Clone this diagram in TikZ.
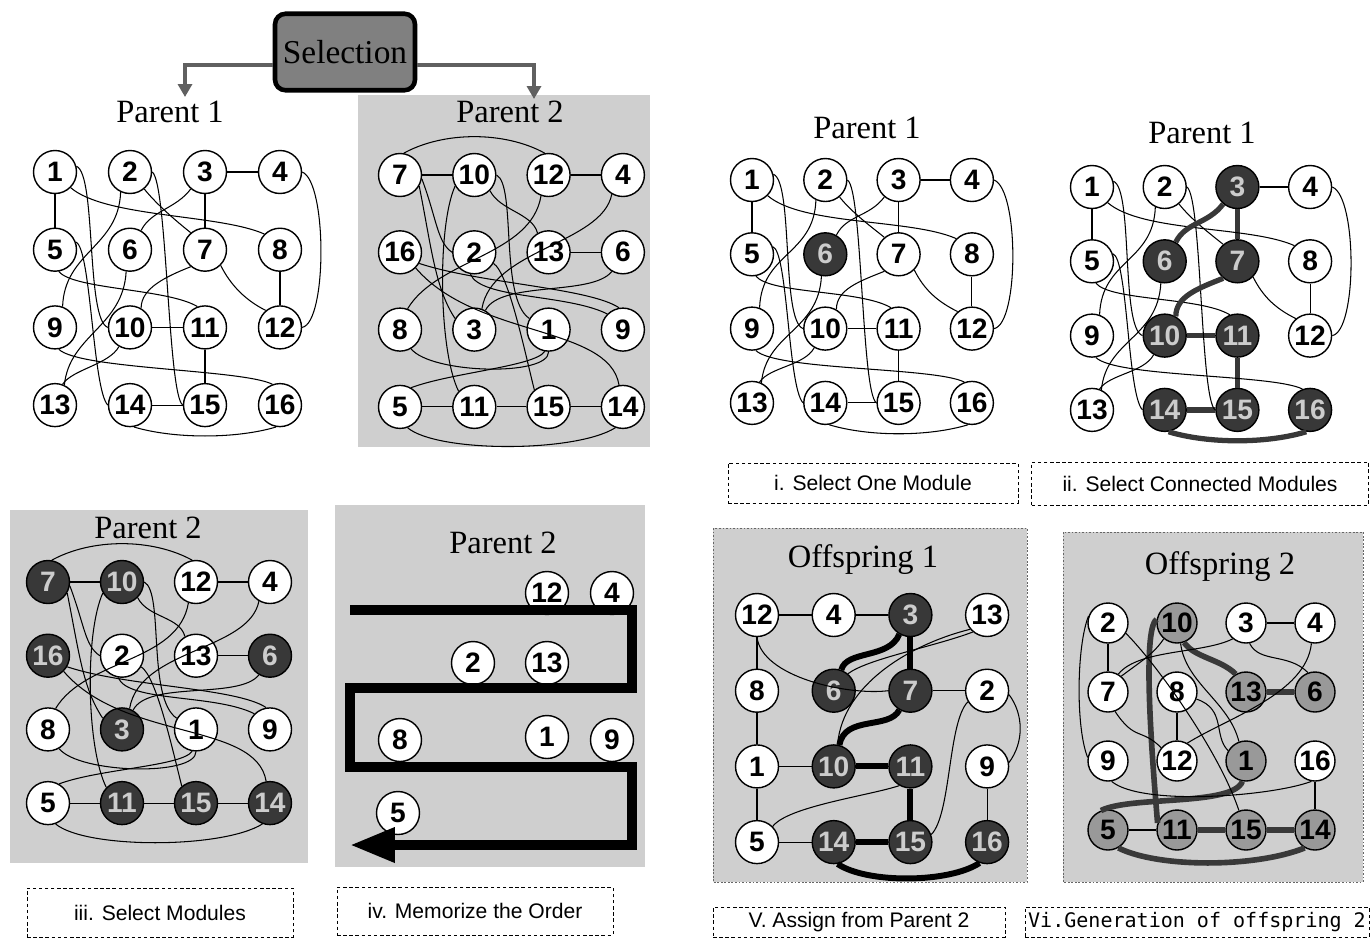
\documentclass[tikz,border=0pt]{standalone}
\usepackage{fontspec}
\setmainfont{Liberation Serif}
\setsansfont{Liberation Sans}
\setmonofont{DejaVu Sans Mono}
\usetikzlibrary{arrows.meta}

\definecolor{dotgrey}{gray}{0.81}
\definecolor{chkdark}{gray}{0.22}
\definecolor{chkmid}{gray}{0.60}
\definecolor{chksel}{gray}{0.50}

\tikzset{
  modnode/.style={circle, draw, line width=0.8pt, fill=white, minimum size=0.86cm, inner sep=0pt,
    font=\sffamily\bfseries\fontsize{16}{16}\selectfont},
  picknode/.style={modnode, fill=chkdark, text=gray!40},
  halfnode/.style={modnode, fill=chkmid},
  link/.style={line width=0.6pt},
  picklink/.style={line width=3pt, draw=chkdark},
  boldlink/.style={line width=3.4pt, draw=black},
  greylink/.style={line width=3.2pt, draw=gray!45!black},
  titletext/.style={font=\fontsize{18.5}{18.5}\selectfont},
  stepnote/.style={draw, dash pattern=on 2pt off 1.5pt, line width=0.5pt, inner sep=0pt,
    font=\sffamily\fontsize{12}{12}\selectfont},
  selbox/.style={draw, line width=2.6pt, rounded corners=6pt, fill=chksel, minimum width=2.8cm,
    minimum height=1.53cm, font=\fontsize{19}{19}\selectfont},
  selarrow/.style={line width=2.4pt, draw=gray!75!black, -{Triangle[length=0.26cm, width=0.28cm]}},
  orderpath/.style={line width=5.6pt, line join=miter, -{Triangle[length=0.9cm, width=0.66cm]}},
  panelshade/.style={fill=dotgrey},
}

% 4x4 grid of modules: prefix, x0, y0, dx, dy, list of label/style
\newcommand{\modgrid}[6]{%
  \foreach \lab/\sty [count=\idx from 0] in {#6} {
    \pgfmathtruncatemacro\cc{mod(\idx,4)}
    \pgfmathtruncatemacro\rr{floor(\idx/4)}
    \node[\sty] (#1\lab) at ({#2+#4*\cc},{#3+#5*\rr}) {\lab};
  }}

% links of parent 1 (second argument: style of the picked links)
\newcommand{\ponelinks}[2]{%
  \draw[link] (#11) -- (#15);
  \draw[link] (#13) -- (#14);
  \draw[#2] (#13) -- (#17);
  \draw[link] (#18) -- (#112);
  \draw[#2] (#110) -- (#111);
  \draw[#2] (#111) -- (#115);
  \draw[#2] (#114) -- (#115);
  \draw[link] (#11.15) .. controls +(20,8) and +(-22,-8) .. (#110.west);
  \draw[link] (#11.-45) .. controls +(35,30) and +(-45,-20) .. (#18.135);
  \draw[link] (#12.east) .. controls +(15,10) and +(-15,-10) .. (#115.west);
  \draw[link] (#12.-50) .. controls +(12,15) and +(-15,-12) .. (#17.130);
  \draw[link] (#12.-115) .. controls +(-2,55) and +(2,-55) .. (#19.70);
  \draw[#2] (#13.-130) .. controls +(-15,20) and +(10,-20) .. (#16.60);
  \draw[link] (#14.east) .. controls +(25,10) and +(25,-5) .. (#112.east);
  \draw[link] (#15.20) .. controls +(15,5) and +(-15,-15) .. (#114.west);
  \draw[link] (#15.-80) .. controls +(15,18) and +(-30,-18) .. (#111.110);
  \draw[link] (#16.-100) .. controls +(-3,55) and +(5,-50) .. (#113.65);
  \draw[#2] (#17.-130) .. controls +(-25,10) and +(0,-20) .. (#110.60);
  \draw[link] (#17.-45) .. controls +(10,20) and +(-20,-10) .. (#112.130);
  \draw[link] (#19.-80) .. controls +(20,20) and +(-30,-15) .. (#116.110);
  \draw[link] (#110.-120) .. controls +(-10,18) and +(10,-15) .. (#113.70);
  \draw[#2] (#114.-80) .. controls +(40,12) and +(-40,12) .. (#116.-100);
}

% links of parent 2
\newcommand{\ptwolinks}[1]{%
  \draw[link] (#17) -- (#110);
  \draw[link] (#112) -- (#14);
  \draw[link] (#113) -- (#16);
  \draw[link] (#15) -- (#111);
  \draw[link] (#111) -- (#115);
  \draw[link] (#115) -- (#114);
  \draw[link] (#17.80) .. controls +(40,-22) and +(-40,-22) .. (#112.100);
  \draw[link] (#14.-120) .. controls +(-10,50) and +(10,-60) .. (#13.70);
  \draw[link] (#17.-30) .. controls +(12,60) and +(-20,-30) .. (#13.150);
  \draw[link] (#17.-10) .. controls +(15,40) and +(-15,-10) .. (#12.west);
  \draw[link] (#110.-150) .. controls +(-18,40) and +(-20,-40) .. (#111.135);
  \draw[link] (#110.-45) .. controls +(10,20) and +(-5,-20) .. (#113.120);
  \draw[link] (#110.east) .. controls +(20,10) and +(-30,-20) .. (#11.150);
  \draw[link] (#12.-30) .. controls +(15,10) and +(-10,-40) .. (#115.130);
  \draw[link] (#112.-110) .. controls +(-10,60) and +(30,-50) .. (#18.70);
  \draw[link] (#18.-60) .. controls +(20,25) and +(0,25) .. (#11.-90);
  \draw[link] (#11.-100) .. controls +(-10,15) and +(40,-15) .. (#15.60);
  \draw[link] (#116.-30) .. controls +(60,20) and +(-30,-20) .. (#19.100);
  \draw[link] (#116.-45) .. controls +(60,70) and +(-10,-60) .. (#114.100);
  \draw[link] (#12.-100) .. controls +(10,25) and +(-40,-20) .. (#19.135);
  \draw[link] (#13.60) .. controls +(15,-30) and +(-20,25) .. (#16.-120);
  \draw[link] (#15.-70) .. controls +(30,25) and +(-40,25) .. (#114.-110);
}

\begin{document}
\begin{tikzpicture}[x=0.02cm, y=-0.02cm]
\useasboundingbox (0,0) rectangle (1370,938);

% shaded panels
\fill[panelshade] (358,95) rectangle (650,447);
\fill[panelshade] (10,510) rectangle (308,863);
\fill[panelshade] (335,505) rectangle (645,867);
\filldraw[panelshade, draw=black!60, dash pattern=on 1pt off 1pt, line width=0.4pt] (713,528) rectangle (1027,882);
\filldraw[panelshade, draw=black!60, dash pattern=on 1pt off 1pt, line width=0.4pt] (1063,532) rectangle (1363,882);

% selection
\node[selbox] (sel) at (345,52) {Selection};
\coordinate (ponein) at (185,97);
\coordinate (ptwoin) at (534,99);
\draw[selarrow] (sel.-170) -| (ponein);
\draw[selarrow] (sel.-10) -| (ptwoin);

% titles
\node[titletext] (tone) at (170,112) {Parent 1};
\node[titletext] (ttwo) at (510,112) {Parent 2};
\node[titletext] (tthree) at (867,128) {Parent 1};
\node[titletext] (tfour) at (1202,133) {Parent 1};
\node[titletext] (tfive) at (148,528) {Parent 2};
\node[titletext] (tsix) at (503,543) {Parent 2};
\node[titletext] (tseven) at (863,560) {Offspring 1};
\node[titletext] (teight) at (1220,567) {Offspring 2};

% parent 1
\modgrid{a}{55}{172}{75}{77.7}{1/modnode,2/modnode,3/modnode,4/modnode,5/modnode,6/modnode,7/modnode,8/modnode,
  9/modnode,10/modnode,11/modnode,12/modnode,13/modnode,14/modnode,15/modnode,16/modnode}
\ponelinks{a}{link}

% parent 2
\modgrid{b}{400}{175}{74.3}{77.3}{7/modnode,10/modnode,12/modnode,4/modnode,16/modnode,2/modnode,13/modnode,6/modnode,
  8/modnode,3/modnode,1/modnode,9/modnode,5/modnode,11/modnode,15/modnode,14/modnode}
\ptwolinks{b}

% i. select one module
\modgrid{c}{752}{180}{73.3}{74.3}{1/modnode,2/modnode,3/modnode,4/modnode,5/modnode,6/picknode,7/modnode,8/modnode,
  9/modnode,10/modnode,11/modnode,12/modnode,13/modnode,14/modnode,15/modnode,16/modnode}
\ponelinks{c}{link}

% ii. select connected modules
\modgrid{d}{1092}{187}{72.7}{74.3}{1/modnode,2/modnode,3/picknode,4/modnode,5/modnode,6/picknode,7/picknode,8/modnode,
  9/modnode,10/picknode,11/picknode,12/modnode,13/modnode,14/picknode,15/picknode,16/picknode}
\ponelinks{d}{picklink}

% iii. select modules
\modgrid{e}{48}{582}{74}{73.7}{7/picknode,10/picknode,12/modnode,4/modnode,16/picknode,2/modnode,13/modnode,6/picknode,
  8/modnode,3/picknode,1/modnode,9/modnode,5/modnode,11/picknode,15/picknode,14/picknode}
\ptwolinks{e}

% iv. memorize the order
\node[modnode] (f12) at (547,593) {12};
\node[modnode] (f4) at (612,593) {4};
\node[modnode] (f2) at (473,663) {2};
\node[modnode] (f13) at (547,663) {13};
\node[modnode] (f8) at (400,740) {8};
\node[modnode] (f1) at (547,737) {1};
\node[modnode] (f9) at (612,740) {9};
\node[modnode] (f5) at (398,813) {5};
\draw[orderpath] (350,610) -- (632,610) -- (632,688) -- (350,688) -- (350,767) -- (632,767) -- (632,845) -- (350,845);

% v. offspring 1
\modgrid{g}{757}{615}{76.7}{75.7}{12/modnode,4/modnode,3/picknode,13/modnode,8/modnode,6/picknode,7/picknode,2/modnode,
  1/modnode,10/picknode,11/picknode,9/modnode,5/modnode,14/picknode,15/picknode,16/picknode}
\draw[link] (g12) -- (g4);
\draw[link] (g3) -- (g4);
\draw[boldlink] (g3) -- (g7);
\draw[link] (g12) -- (g8);
\draw[link] (g8) -- (g1);
\draw[link] (g1) -- (g10);
\draw[link] (g1) -- (g5);
\draw[link] (g5) -- (g14);
\draw[boldlink] (g10) -- (g11);
\draw[boldlink] (g11) -- (g15);
\draw[boldlink] (g14) -- (g15);
\draw[link] (g9) -- (g16);
\draw[link] (g7) -- (g2);
\draw[boldlink] (g3.-120) .. controls +(-10,25) and +(5,-20) .. (g6.70);
\draw[boldlink] (g7.-120) .. controls +(-10,20) and +(5,-30) .. (g10.75);
\draw[boldlink] (g14.-80) .. controls +(30,20) and +(-30,20) .. (g16.-110);
\draw[link] (g12.-90) .. controls +(5,40) and +(-40,5) .. (g7.west);
\draw[link] (g13.-130) .. controls +(-40,15) and +(20,-15) .. (g6.50);
\draw[link] (g13.-140) .. controls +(-60,15) and +(5,-60) .. (g10.80);
\draw[link] (g2.-150) .. controls +(-20,20) and +(20,-20) .. (g15.20);
\draw[link] (g2.-10) .. controls +(15,20) and +(15,-20) .. (g9.10);
\draw[link] (g5.45) .. controls +(15,-20) and +(-30,10) .. (g11.-120);

% vi. offspring 2
\begin{scope}[modnode/.append style={minimum size=0.8cm}]
\modgrid{h}{1108}{623}{69}{69}{2/modnode,10/halfnode,3/modnode,4/modnode,7/modnode,8/modnode,13/halfnode,6/halfnode,
  9/modnode,12/modnode,1/halfnode,16/modnode,5/halfnode,11/halfnode,15/halfnode,14/halfnode}
\end{scope}
\draw[link] (h3) -- (h4);
\draw[link] (h2) -- (h7);
\draw[link] (h8) -- (h12);
\draw[greylink] (h13) -- (h6);
\draw[link] (h5) -- (h11);
\draw[greylink] (h11) -- (h15);
\draw[greylink] (h15) -- (h14);
\draw[link] (h16) -- (h14);
\draw[greylink] (h10.-70) .. controls +(10,15) and +(-15,-15) .. (h13.120);
\draw[greylink] (h10.170) .. controls +(-15,10) and +(-5,-60) .. (h11.160);
\draw[greylink] (h1.-100) .. controls +(-10,25) and +(30,-15) .. (h5.110);
\draw[greylink] (h5.-60) .. controls +(40,20) and +(-50,20) .. (h14.-120);
\draw[link] (h2.160) .. controls +(-12,30) and +(-12,-30) .. (h9.170);
\draw[link] (h7.60) .. controls +(20,-25) and +(-30,15) .. (h3.-130);
\draw[link] (h3.-80) .. controls +(10,20) and +(-20,-20) .. (h6.110);
\draw[link] (h4.-100) .. controls +(-5,50) and +(40,-25) .. (h12.60);
\draw[link] (h10.-130) .. controls +(-10,15) and +(20,-15) .. (h7.50);
\draw[link] (h7.-70) .. controls +(20,30) and +(-20,-20) .. (h12.140);
\draw[link] (h2.-30) .. controls +(30,30) and +(-20,-60) .. (h15.110);
\draw[link] (h10.-80) .. controls +(5,40) and +(-10,-40) .. (h1.110);
\draw[link] (h8.-20) .. controls +(30,10) and +(-15,-15) .. (h1.150);
\draw[link] (h9.-80) .. controls +(30,25) and +(-40,15) .. (h16.-100);

% step notes
\node[stepnote, minimum width=5.8cm, minimum height=0.8cm] (notei) at (873,483) {i. Select One Module};
\node[stepnote, minimum width=6.74cm, minimum height=0.86cm] (noteii) at (1200,483.5) {ii. Select Connected Modules};
\node[stepnote, minimum width=5.32cm, minimum height=0.98cm] (noteiii) at (160,912.5) {iii. Select Modules};
\node[stepnote, minimum width=5.52cm, minimum height=0.96cm] (noteiv) at (475,911) {iv. Memorize the Order};
\node[stepnote, minimum width=5.84cm, minimum height=0.6cm] (notev) at (859,922) {V. Assign from Parent 2};
\node[stepnote, minimum width=6.88cm, minimum height=0.6cm, font=\ttfamily\fontsize{11.4}{11.4}\selectfont] (notevi) at (1197,922) {Vi.Generation of offspring 2};

\end{tikzpicture}
\end{document}
